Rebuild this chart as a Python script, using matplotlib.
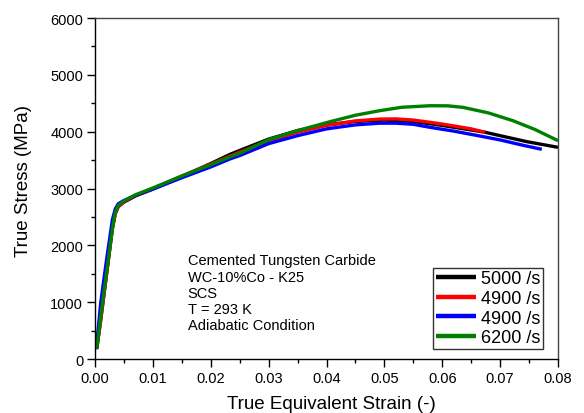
import matplotlib
matplotlib.use("Agg")
import matplotlib.pyplot as plt
from matplotlib.ticker import MultipleLocator

plt.rcParams['font.family'] = ['Liberation Sans', 'DejaVu Sans']

# Data
strain_5000 = [0.0003, 0.001, 0.002, 0.003, 0.0035, 0.004, 0.005, 0.007, 0.010, 0.015, 0.020,
               0.0233, 0.025, 0.030, 0.035, 0.040, 0.045, 0.050, 0.055, 0.060, 0.065,
               0.0674, 0.070, 0.0746, 0.080]
stress_5000 = [180, 700, 1500, 2300, 2560, 2680, 2760, 2870, 2990, 3210, 3440,
               3600, 3670, 3870, 4020, 4120, 4180, 4205, 4180, 4110, 4030,
               3990, 3930, 3825, 3725]

strain_4900a = [0.0003, 0.001, 0.002, 0.003, 0.0035, 0.004, 0.005, 0.007, 0.010, 0.015, 0.020,
                0.025, 0.030, 0.035, 0.040, 0.045, 0.0492, 0.052, 0.055, 0.0579, 0.060,
                0.065, 0.0674]
stress_4900a = [180, 700, 1500, 2300, 2560, 2680, 2770, 2880, 3000, 3220, 3430,
                3640, 3840, 3990, 4110, 4190, 4222, 4225, 4205, 4165, 4135,
                4050, 3990]

strain_4900b = [0.0002, 0.001, 0.002, 0.003, 0.0035, 0.004, 0.005, 0.007, 0.010, 0.015, 0.020,
                0.0233, 0.025, 0.030, 0.035, 0.040, 0.045, 0.0492, 0.052, 0.055, 0.0579,
                0.0620, 0.0662, 0.070, 0.0740, 0.0772]
stress_4900b = [170, 1000, 1750, 2450, 2640, 2730, 2790, 2880, 2990, 3190, 3380,
                3520, 3580, 3790, 3930, 4050, 4120, 4150, 4150, 4130, 4077,
                4010, 3930, 3855, 3760, 3690]

strain_6200 = [0.0003, 0.001, 0.002, 0.003, 0.0035, 0.004, 0.005, 0.007, 0.010, 0.015, 0.020,
               0.0233, 0.025, 0.030, 0.035, 0.0406, 0.045, 0.0492, 0.053, 0.0579, 0.0610,
               0.0636, 0.068, 0.0722, 0.076, 0.080]
stress_6200 = [180, 760, 1520, 2290, 2580, 2700, 2780, 2890, 3010, 3220, 3420,
               3555, 3620, 3860, 4020, 4176, 4290, 4370, 4430, 4457, 4455,
               4428, 4330, 4194, 4040, 3842]

series = [
    (strain_5000, stress_5000, 'black', '5000 /s'),
    (strain_4900a, stress_4900a, 'red', '4900 /s'),
    (strain_4900b, stress_4900b, 'blue', '4900 /s'),
    (strain_6200, stress_6200, 'green', '6200 /s'),
]

x_ticks = [0.00, 0.01, 0.02, 0.03, 0.04, 0.05, 0.06, 0.07, 0.08]
x_ticklabels = ['0.00', '0.01', '0.02', '0.03', '0.04', '0.05', '0.06', '0.07', '0.08']
y_ticks = [0, 1000, 2000, 3000, 4000, 5000, 6000]

annotation = "Cemented Tungsten Carbide\nWC-10%Co - K25\nSCS\nT = 293 K\nAdiabatic Condition"

fig = plt.figure(figsize=(5.84, 4.14), dpi=100)
ax = fig.add_axes([0.1627, 0.1304, 0.7928, 0.8236])

for xs, ys, c, lab in series:
    ax.plot(xs, ys, color=c, lw=2.4, label=lab, solid_capstyle='butt')

ax.set_xlim(0, 0.08)
ax.set_ylim(0, 6000)
ax.set_xticks(x_ticks)
ax.set_xticklabels(x_ticklabels)
ax.set_yticks(y_ticks)
ax.xaxis.set_minor_locator(MultipleLocator(0.005))
ax.yaxis.set_minor_locator(MultipleLocator(500))
ax.tick_params(which='major', direction='out', length=5.5, width=1, labelsize=10.5,
               colors='black', pad=3)
ax.tick_params(which='minor', direction='out', length=3, width=1)
ax.tick_params(top=False, right=False, which='both')

for s in ['left', 'bottom']:
    ax.spines[s].set_color('black')
    ax.spines[s].set_linewidth(1.0)
for s in ['top', 'right']:
    ax.spines[s].set_color('#444444')
    ax.spines[s].set_linewidth(1.0)

ax.set_xlabel('True Equivalent Strain (-)', fontsize=13.5)
ax.set_ylabel('True Stress (MPa)', fontsize=13.5)
ax.xaxis.set_label_coords(0.51, -0.106)
ax.yaxis.set_label_coords(-0.137, 0.525)

ax.text(0.2, 0.31, annotation, transform=ax.transAxes, fontsize=10.5,
        va='top', ha='left', linespacing=1.2)

leg = ax.legend(loc='lower right', bbox_to_anchor=(0.968, 0.029), borderaxespad=0,
                fontsize=13, frameon=True, fancybox=False, handlelength=2.2,
                handletextpad=0.3, labelspacing=0.15, borderpad=0.15)
leg.get_frame().set_edgecolor('black')
leg.get_frame().set_linewidth(1.0)
for line in leg.get_lines():
    line.set_linewidth(3.2)

fig.savefig('out.png', dpi=100)
